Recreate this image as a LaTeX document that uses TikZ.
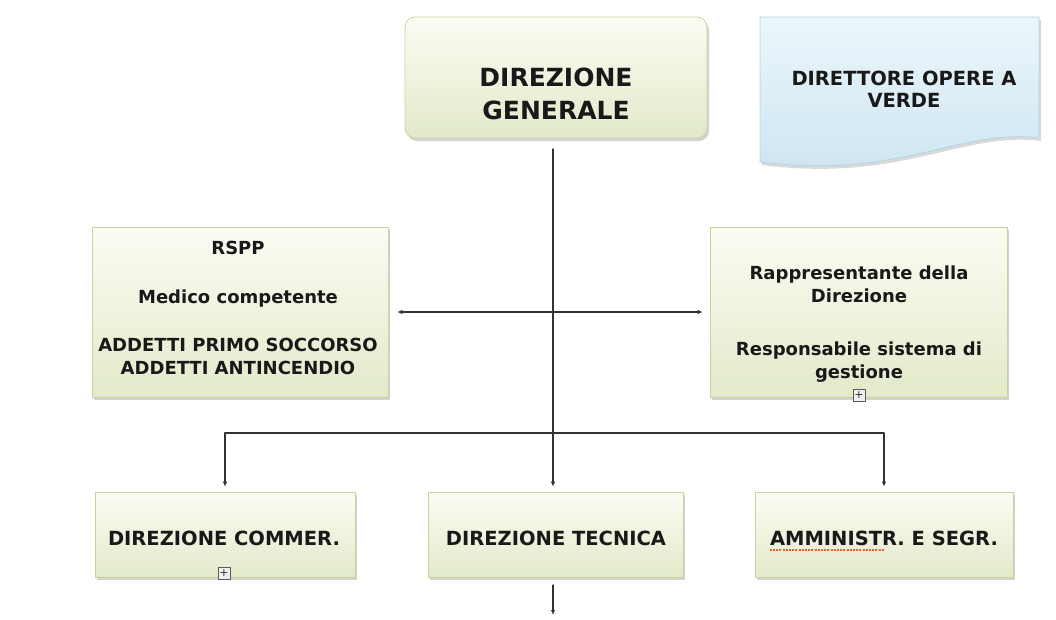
\documentclass[tikz,border=0pt]{standalone}
\usepackage{fontspec}
\setmainfont{DejaVu Sans}
\usetikzlibrary{arrows.meta,shadows}

\definecolor{ink}{RGB}{25,25,25}
\definecolor{wire}{RGB}{50,50,50}
\definecolor{spell}{RGB}{235,95,45}
\definecolor{boxtop}{RGB}{251,252,243}
\definecolor{boxbot}{RGB}{226,234,202}
\definecolor{boxline}{RGB}{200,210,160}
\definecolor{doctop}{RGB}{236,246,251}
\definecolor{docbot}{RGB}{204,229,241}
\definecolor{docline}{RGB}{175,210,226}

\begin{document}
\begin{tikzpicture}[x=1pt,y=-1pt,line cap=round,line join=round,
    box/.style={draw=boxline,line width=0.7pt,top color=boxtop,bottom color=boxbot,
      drop shadow={opacity=0.35,shadow xshift=2pt,shadow yshift=-3pt},inner sep=0pt},
    txt/.style={align=center,inner sep=0pt,text=ink},
    plusbox/.style={draw=gray!70!black,fill=gray!12,minimum size=12pt,inner sep=0pt,
      text=gray!40!black,font=\fontsize{11}{11}\selectfont},
    arr/.style={-{Latex[length=5pt,width=4.5pt]},line width=1.2pt,draw=wire}]
  \useasboundingbox (0,0) rectangle (1056,619);

  % Etage 1
  \node[box,rounded corners=10pt,minimum width=302pt,minimum height=121pt] (dg) at (556,77.5) {};
  \node[txt,font=\bfseries\fontsize{25}{33}\selectfont] (dgtxt) at (556,94) {DIREZIONE\\GENERALE};
  \path[draw=docline,line width=0.7pt,top color=doctop,bottom color=docbot,
    drop shadow={opacity=0.3,shadow xshift=2pt,shadow yshift=-3pt}]
    (760,17) -- (1039,17) -- (1039,138)
    .. controls (960,128) and (900,180) .. (760,162) -- cycle;
  \node[txt,font=\bfseries\fontsize{19.5}{22}\selectfont] (dov) at (904,89) {DIRETTORE OPERE A\\VERDE};

  % Etage 2
  \node[box,minimum width=296pt,minimum height=170pt] (rspp) at (240,312) {};
  \node[txt,font=\bfseries\fontsize{18}{22.5}\selectfont] (rspptxt) at (238,308)
    {RSPP\\[26pt]Medico competente\\[26pt]ADDETTI PRIMO SOCCORSO\\ADDETTI ANTINCENDIO};
  \node[box,minimum width=297pt,minimum height=170pt] (rap) at (858.5,312) {};
  \node[txt,font=\bfseries\fontsize{18}{22.5}\selectfont] (raptxt) at (859,324)
    {Rappresentante della\\Direzione\\[31pt]Responsabile sistema di\\gestione};
  \node[plusbox] (rapplus) at (859,395) {+};

  % Etage 3
  \node[box,minimum width=260pt,minimum height=85pt] (com) at (225,534.5) {};
  \node[txt,font=\bfseries\fontsize{19.5}{22}\selectfont] (comtxt) at (224,538) {DIREZIONE COMMER.};
  \node[plusbox] (complus) at (224,573) {+};
  \node[box,minimum width=255pt,minimum height=85pt] (tec) at (555.5,534.5) {};
  \node[txt,font=\bfseries\fontsize{19.5}{22}\selectfont] (tectxt) at (556,538) {DIREZIONE TECNICA};
  \node[box,minimum width=258pt,minimum height=85pt] (amm) at (884,534.5) {};
  \node[txt,font=\bfseries\fontsize{19.5}{22}\selectfont] (ammtxt) at (884,538) {AMMINISTR. E SEGR.};
  \draw[spell,line width=2pt,line cap=butt,dash pattern=on 2pt off 1.2pt]
    (ammtxt.south west)+(0,4) -- +(114,4);

  % connecteurs
  \coordinate (top) at (553,149);
  \coordinate (hub) at (553,433);
  \coordinate (low) at (553,585);
  \coordinate (end) at (553,615);
  \draw[line width=1.2pt,draw=wire] (top) -- (hub);
  \draw[arr,{Latex[length=5pt,width=4.5pt]}-{Latex[length=5pt,width=4.5pt]},
    shorten <=9pt,shorten >=7pt] (rspp) -- (rap);
  \draw[arr,shorten >=5pt] (hub) -| (com.north);
  \draw[arr,shorten >=5pt] (hub) -| (amm.north);
  \draw[arr,shorten >=5pt] (hub) -- (hub |- tec.north);
  \draw[arr] (low) -- (end);
\end{tikzpicture}
\end{document}
